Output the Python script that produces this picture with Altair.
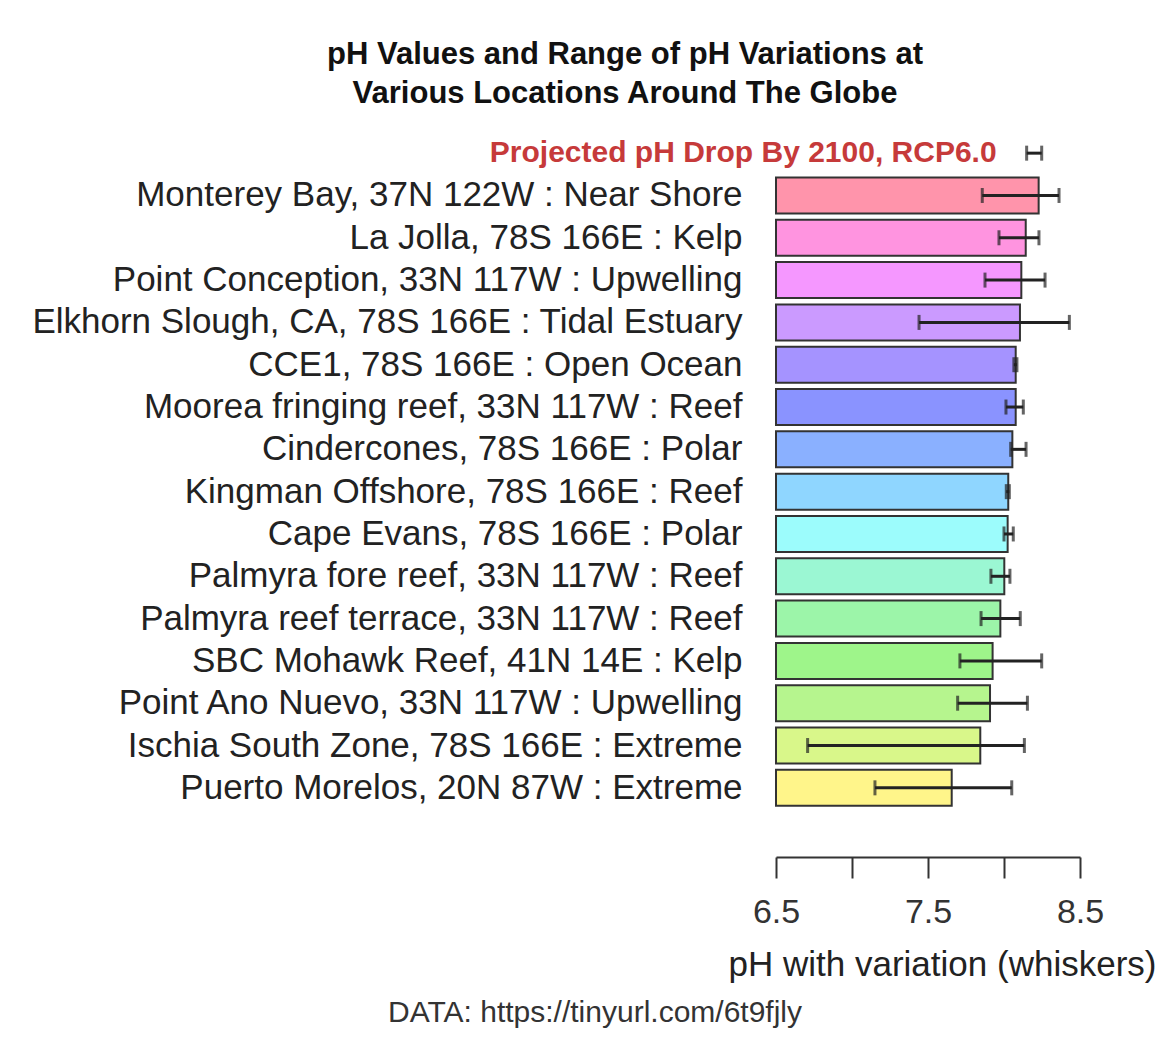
import altair as alt
import pandas as pd

names = [
    "Monterey Bay, 37N 122W : Near Shore",
    "La Jolla, 78S 166E : Kelp",
    "Point Conception, 33N 117W : Upwelling",
    "Elkhorn Slough, CA, 78S 166E : Tidal Estuary",
    "CCE1, 78S 166E : Open Ocean",
    "Moorea fringing reef, 33N 117W : Reef",
    "Cindercones, 78S 166E : Polar",
    "Kingman Offshore, 78S 166E : Reef",
    "Cape Evans, 78S 166E : Polar",
    "Palmyra fore reef, 33N 117W : Reef",
    "Palmyra reef terrace, 33N 117W : Reef",
    "SBC Mohawk Reef, 41N 14E : Kelp",
    "Point Ano Nuevo, 33N 117W : Upwelling",
    "Ischia South Zone, 78S 166E : Extreme",
    "Puerto Morelos, 20N 87W : Extreme",
]
ph = [8.228, 8.143, 8.114, 8.105, 8.077, 8.077, 8.055, 8.028, 8.024, 8.002,
      7.976, 7.925, 7.908, 7.844, 7.656]
ph_low = [7.857, 7.967, 7.875, 7.441, 8.065, 8.013, 8.044, 8.015, 8.000, 7.914,
          7.849, 7.710, 7.695, 6.708, 7.151]
ph_high = [8.362, 8.230, 8.270, 8.430, 8.085, 8.127, 8.145, 8.035, 8.061, 8.039,
           8.107, 8.248, 8.154, 8.134, 8.051]
colors = ["#FF94AB", "#FF94E0", "#F597FF", "#CB9AFF", "#A593FF", "#8A93FF",
          "#8AB0FF", "#8FD6FF", "#9CFCFC", "#9BF7D3", "#9CF5A9", "#9EF58A",
          "#B6F58E", "#D9F78A", "#FFF58A"]

proj_key = "Projected"
proj_label = "Projected pH Drop By 2100, RCP6.0"
proj_low = 8.149
proj_high = 8.248

x_min, x_max = 6.5, 8.5
tick_values = [6.5, 7.0, 7.5, 8.0, 8.5]
caption = "DATA: https://tinyurl.com/6t9fjly"

bars = pd.DataFrame({"site": names, "ph": ph, "base": [x_min] * len(names)})
whisk = pd.DataFrame({
    "site": [proj_key] + names,
    "lo": [proj_low] + ph_low,
    "hi": [proj_high] + ph_high,
})
proj_df = pd.DataFrame({"site": [proj_key], "lo": [proj_low], "label": [proj_label]})
cap_df = pd.DataFrame({"caption": [caption]})

font = "Liberation Sans"
y_domain = [proj_key] + names

y_enc = alt.Y(
    "site:N",
    scale=alt.Scale(domain=y_domain, paddingInner=0.15, paddingOuter=0.075),
    axis=alt.Axis(
        title=None, domain=False, ticks=False, labelFontSize=35, labelFont=font,
        labelColor="#222222", labelPadding=34, labelLimit=1000,
        labelExpr=f"datum.value == '{proj_key}' ? '' : datum.value",
    ),
)
x_scale = alt.Scale(domain=[x_min, x_max], zero=False, nice=False)

bar_layer = alt.Chart(bars).mark_bar(stroke="#333333", strokeWidth=2).encode(
    x=alt.X(
        "base:Q", scale=x_scale,
        axis=alt.Axis(
            values=tick_values, offset=48, tickSize=21, tickWidth=2, domainWidth=2,
            domainColor="#333333", tickColor="#333333", labelFontSize=34,
            labelFont=font, labelColor="#333333", labelPadding=17, labelFlush=False,
            labelExpr="datum.value == 7 || datum.value == 8 ? '' : format(datum.value, '.1f')",
            title="pH with variation (whiskers)", titleFontSize=35, titleFont=font,
            titleFontWeight="normal", titleColor="#222222", titlePadding=18,
            titleX=166, titleAlign="center", grid=False,
        ),
    ),
    x2="ph:Q",
    y=y_enc,
    color=alt.Color("site:N", scale=alt.Scale(domain=names, range=colors), legend=None),
)

rule_layer = alt.Chart(whisk).mark_rule(color="#222222", strokeWidth=3).encode(
    x=alt.X("lo:Q", scale=x_scale), x2="hi:Q", y=y_enc
)
tick_lo = alt.Chart(whisk).mark_tick(color="#222222", thickness=3, size=15).encode(
    x=alt.X("lo:Q", scale=x_scale), y=y_enc
)
tick_hi = alt.Chart(whisk).mark_tick(color="#222222", thickness=3, size=15).encode(
    x=alt.X("hi:Q", scale=x_scale), y=y_enc
)
proj_text = alt.Chart(proj_df).mark_text(
    align="right", baseline="middle", dx=-30, fontSize=30, fontWeight="bold",
    font=font, color="#C63A3A",
).encode(x=alt.X("lo:Q", scale=x_scale), y=y_enc, text="label:N")

caption_layer = alt.Chart(cap_df).mark_text(
    align="center", baseline="middle", fontSize=30, font=font, color="#333333",
).encode(x=alt.value(-181), y=alt.value(881), text="caption:N")

chart = alt.layer(
    bar_layer, rule_layer, tick_lo, tick_hi, proj_text, caption_layer
).properties(
    width=304,
    height=677,
    title=alt.TitleParams(
        text=["pH Values and Range of pH Variations at",
              "Various Locations Around The Globe"],
        font=font, fontSize=31, fontWeight="bold", color="#111111",
        lineHeight=39, anchor="middle", dx=-303, offset=22,
    ),
    padding={"left": 768, "top": 124, "right": 80, "bottom": 232},
    autosize=alt.AutoSizeParams(type="none"),
).configure(background="white").configure_view(strokeWidth=0, stroke="transparent")

chart.save("out.html", embed_options={"renderer": "svg", "actions": False})
